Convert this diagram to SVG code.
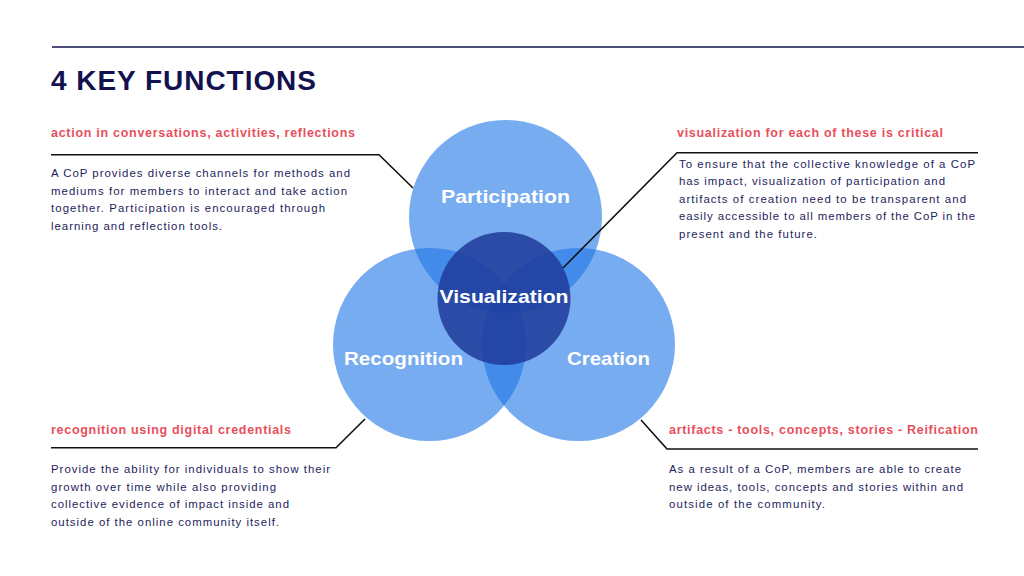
<svg xmlns="http://www.w3.org/2000/svg" width="1024" height="576" viewBox="0 0 1024 576">
<style>
.title{font-family:"Liberation Sans",Arial,sans-serif;font-weight:bold;font-size:28px;fill:#12124f;}
.head{font-family:"Liberation Sans",Arial,sans-serif;font-weight:bold;font-size:12.5px;fill:#e84f5c;}
.body{font-family:"Liberation Sans",Arial,sans-serif;font-size:11.4px;fill:#1d1d5c;}
.lab{font-family:"Liberation Sans",Arial,sans-serif;font-weight:bold;font-size:19px;fill:#ffffff;text-anchor:middle;}
.c{fill:#1e75e6;fill-opacity:0.6;}
.v{fill:#1e3a9a;fill-opacity:0.85;}
.con{fill:none;stroke:#111111;stroke-width:1.6;}
</style>
<rect width="1024" height="576" fill="#ffffff"/>
<line x1="52" y1="47" x2="1024" y2="47" stroke="#12124f" stroke-width="1.6"/>
<text class="title" x="51" y="90" textLength="265" lengthAdjust="spacing">4 KEY FUNCTIONS</text>

<g id="participation"><circle class="c" cx="505.5" cy="216.5" r="96.5"/></g>
<g id="recognition"><circle class="c" cx="429.5" cy="344.5" r="96.5"/></g>
<g id="creation"><circle class="c" cx="578.5" cy="344.5" r="96.5"/></g>
<g id="visualization"><circle class="v" cx="504" cy="298.5" r="66.5"/></g>

<g id="labels">
<text class="lab" x="505.5" y="202.5" textLength="129" lengthAdjust="spacingAndGlyphs">Participation</text>
<text class="lab" x="504" y="302.5" textLength="129" lengthAdjust="spacingAndGlyphs">Visualization</text>
<text class="lab" x="403.5" y="365" textLength="119" lengthAdjust="spacingAndGlyphs">Recognition</text>
<text class="lab" x="608.5" y="365" textLength="83" lengthAdjust="spacingAndGlyphs">Creation</text>
</g>

<g id="connectors">
<polyline class="con" points="51,154.7 379,154.7 413,188"/>
<polyline class="con" points="563,268 677,152.8 978,152.8"/>
<polyline class="con" points="51,447.8 336,447.8 365,419"/>
<polyline class="con" points="641,420 667,449 978,449"/>
</g>

<g id="note-participation">
<text class="head" x="51" y="137" textLength="304" lengthAdjust="spacing">action in conversations, activities, reflections</text>
<text class="body" x="51" y="177" textLength="299" lengthAdjust="spacing">A CoP provides diverse channels for methods and</text>
<text class="body" x="51" y="194.5" textLength="296" lengthAdjust="spacing">mediums for members to interact and take action</text>
<text class="body" x="51" y="212" textLength="274" lengthAdjust="spacing">together. Participation is encouraged through</text>
<text class="body" x="51" y="229.5" textLength="171" lengthAdjust="spacing">learning and reflection tools.</text>
</g>

<g id="note-visualization">
<text class="head" x="677" y="137" textLength="266" lengthAdjust="spacing">visualization for each of these is critical</text>
<text class="body" x="679" y="167.5" textLength="296" lengthAdjust="spacing">To ensure that the collective knowledge of a CoP</text>
<text class="body" x="679" y="185" textLength="266" lengthAdjust="spacing">has impact, visualization of participation and</text>
<text class="body" x="679" y="202.5" textLength="287" lengthAdjust="spacing">artifacts of creation need to be transparent and</text>
<text class="body" x="679" y="220" textLength="296" lengthAdjust="spacing">easily accessible to all members of the CoP in the</text>
<text class="body" x="679" y="237.5" textLength="138" lengthAdjust="spacing">present and the future.</text>
</g>

<g id="note-recognition">
<text class="head" x="51" y="434" textLength="240" lengthAdjust="spacing">recognition using digital credentials</text>
<text class="body" x="51" y="473" textLength="279" lengthAdjust="spacing">Provide the ability for individuals to show their</text>
<text class="body" x="51" y="490.5" textLength="225" lengthAdjust="spacing">growth over time while also providing</text>
<text class="body" x="51" y="508" textLength="238" lengthAdjust="spacing">collective evidence of impact inside and</text>
<text class="body" x="51" y="525.5" textLength="228" lengthAdjust="spacing">outside of the online community itself.</text>
</g>

<g id="note-creation">
<text class="head" x="669" y="434" textLength="309" lengthAdjust="spacing">artifacts - tools, concepts, stories - Reification</text>
<text class="body" x="669" y="473" textLength="292" lengthAdjust="spacing">As a result of a CoP, members are able to create</text>
<text class="body" x="669" y="490.5" textLength="294" lengthAdjust="spacing">new ideas, tools, concepts and stories within and</text>
<text class="body" x="669" y="508" textLength="156" lengthAdjust="spacing">outside of the community.</text>
</g>
</svg>
